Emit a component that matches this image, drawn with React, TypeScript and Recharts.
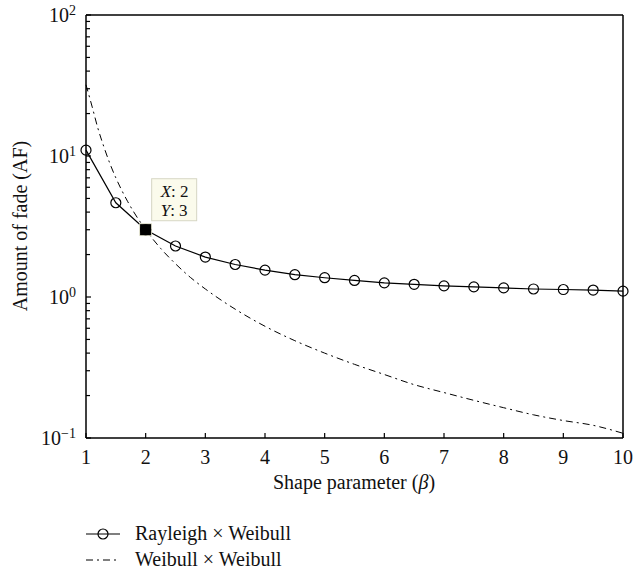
import React from 'react';
import { LineChart, Line, XAxis, YAxis, ReferenceDot, Legend } from 'recharts';

const FONT = '"Liberation Serif", "DejaVu Serif", serif';

// Shape parameter (beta) samples for the marker series
const betaCoarse = [1, 1.5, 2, 2.5, 3, 3.5, 4, 4.5, 5, 5.5, 6, 6.5, 7, 7.5, 8, 8.5, 9, 9.5, 10];
// Rayleigh x Weibull amount of fade
const rayleighWeibull = [11.0, 4.66, 3.0, 2.30, 1.92, 1.70, 1.55, 1.44, 1.37, 1.31, 1.26, 1.23, 1.20, 1.18, 1.16, 1.14, 1.13, 1.12, 1.10];

// Finer beta samples for the dash-dot curve
const betaFine = [1, 1.1, 1.2, 1.3, 1.4, 1.5, 1.6, 1.7, 1.8, 1.9, 2, 2.25, 2.5, 2.75, 3, 3.5, 4, 4.5, 5, 5.5, 6, 6.5, 7, 7.5, 8, 8.5, 9, 9.5, 10];
// Weibull x Weibull amount of fade
const weibullWeibull = [32, 22.6, 15.7, 11.6, 8.85, 7.0, 5.7, 4.74, 4.01, 3.45, 3.0, 2.215, 1.72, 1.377, 1.14, 0.82, 0.62, 0.49, 0.40, 0.333, 0.282, 0.239, 0.210, 0.185, 0.164, 0.146, 0.133, 0.123, 0.108];

const xTicks = [1, 2, 3, 4, 5, 6, 7, 8, 9, 10];
const xTickLabels = ['1', '2', '3', '4', '5', '6', '7', '8', '9', '10'];
const yMajorTicks = [0.1, 1, 10, 100];
const yTickExponents = ['\u22121', '0', '1', '2'];
const yMinorTicks = [0.2, 0.3, 0.4, 0.5, 0.6, 0.7, 0.8, 0.9, 2, 3, 4, 5, 6, 7, 8, 9, 20, 30, 40, 50, 60, 70, 80, 90];
const yTicks = [...yMajorTicks, ...yMinorTicks].sort((a, b) => a - b);

const seriesNames = ['Rayleigh \u00d7 Weibull', 'Weibull \u00d7 Weibull'];
const dataTip = { x: 2, y: 3 };

const majorIndex = (v: number) => yMajorTicks.findIndex((m) => Math.abs(m - v) < 1e-9);

const BottomTick = (p: any) => {
  const { x, y, payload } = p;
  const i = xTicks.indexOf(payload.value);
  return (
    <g>
      <line x1={x} y1={y} x2={x} y2={y - 5} stroke="#000" strokeWidth={1.2} />
      <text x={x} y={y + 26} textAnchor="middle" fontFamily={FONT} fontSize={20} fill="#111">
        {xTickLabels[i]}
      </text>
    </g>
  );
};

const TopTick = (p: any) => {
  const { x, y } = p;
  return <line x1={x} y1={y} x2={x} y2={y + 5} stroke="#000" strokeWidth={1.2} />;
};

const LeftTick = (p: any) => {
  const { x, y, payload } = p;
  const mi = majorIndex(payload.value);
  const major = mi >= 0;
  return (
    <g>
      <line x1={x} y1={y} x2={x + (major ? 5 : 4)} y2={y} stroke="#000" strokeWidth={1.2} />
      {major && (
        <text x={x - 10} y={y + 7} textAnchor="end" fontFamily={FONT} fontSize={20} fill="#111">
          10
          <tspan dy={-7} fontSize={14}>{yTickExponents[mi]}</tspan>
        </text>
      )}
    </g>
  );
};

const RightTick = (p: any) => {
  const { x, y, payload } = p;
  const major = majorIndex(payload.value) >= 0;
  return <line x1={x} y1={y} x2={x - (major ? 5 : 4)} y2={y} stroke="#000" strokeWidth={1.2} />;
};

const XLabel = () => (
  <text x={354} y={489} textAnchor="middle" fontFamily={FONT} fontSize={20} fill="#111">
    Shape parameter (<tspan fontStyle="italic">β</tspan>)
  </text>
);

const YLabel = () => (
  <text
    x={27}
    y={226}
    transform="rotate(-90, 27, 226)"
    textAnchor="middle"
    fontFamily={FONT}
    fontSize={20}
    fill="#111"
  >
    Amount of fade (AF)
  </text>
);

const DataTipShape = (p: any) => {
  const { cx, cy } = p;
  return (
    <g>
      <rect x={cx + 6} y={cy - 51} width={45} height={42} fill="#fbfbec" stroke="#d6d6c4" strokeWidth={1} />
      <text x={cx + 15} y={cy - 33} fontFamily={FONT} fontSize={17} fill="#111">
        <tspan fontStyle="italic">X</tspan>: {dataTip.x}
      </text>
      <text x={cx + 15} y={cy - 14} fontFamily={FONT} fontSize={17} fill="#111">
        <tspan fontStyle="italic">Y</tspan>: {dataTip.y}
      </text>
      <rect x={cx - 6} y={cy - 6} width={12} height={12} fill="#000" stroke="#f3f3dc" strokeWidth={0.8} />
    </g>
  );
};

const LegendContent = () => (
  <svg width={300} height={60} style={{ display: 'block' }}>
    <line x1={6} y1={16} x2={40} y2={16} stroke="#000" strokeWidth={1.2} />
    <circle cx={23} cy={16} r={5} fill="none" stroke="#000" strokeWidth={1.2} />
    <text x={55} y={22} fontFamily={FONT} fontSize={20} fill="#111">{seriesNames[0]}</text>
    <line x1={6} y1={42} x2={40} y2={42} stroke="#000" strokeWidth={1} strokeDasharray="7 4 2 4" />
    <text x={55} y={48} fontFamily={FONT} fontSize={20} fill="#111">{seriesNames[1]}</text>
  </svg>
);

export default function App() {
  const rwData = betaCoarse.map((b, i) => ({ beta: b, af: rayleighWeibull[i] }));
  const wwData = betaFine.map((b, i) => ({ beta: b, af: weibullWeibull[i] }));
  const axisLine = { stroke: '#000', strokeWidth: 1.5 };
  return (
    <div style={{ position: 'absolute', left: 0, top: 0, width: 633, height: 574, background: '#fff' }}>
      <LineChart width={633} height={574} margin={{ top: 14, right: 9, bottom: 135, left: 85 }}>
        <XAxis
          xAxisId="b"
          type="number"
          dataKey="beta"
          orientation="bottom"
          domain={[1, 10]}
          ticks={xTicks}
          interval={0}
          height={1}
          tickSize={0}
          tickMargin={0}
          tickLine={false}
          tick={(p: any) => <BottomTick {...p} />}
          axisLine={axisLine}
          label={<XLabel />}
        />
        <XAxis
          xAxisId="t"
          type="number"
          orientation="top"
          domain={[1, 10]}
          ticks={xTicks}
          interval={0}
          height={1}
          tickSize={0}
          tickMargin={0}
          tickLine={false}
          tick={(p: any) => <TopTick {...p} />}
          axisLine={axisLine}
        />
        <YAxis
          yAxisId="l"
          type="number"
          scale="log"
          orientation="left"
          domain={[0.1, 100]}
          ticks={yTicks}
          interval={0}
          width={1}
          tickSize={0}
          tickMargin={0}
          tickLine={false}
          tick={(p: any) => <LeftTick {...p} />}
          axisLine={axisLine}
          label={<YLabel />}
        />
        <YAxis
          yAxisId="r"
          type="number"
          scale="log"
          orientation="right"
          domain={[0.1, 100]}
          ticks={yTicks}
          interval={0}
          width={1}
          tickSize={0}
          tickMargin={0}
          tickLine={false}
          tick={(p: any) => <RightTick {...p} />}
          axisLine={axisLine}
        />
        <Line
          xAxisId="b"
          yAxisId="l"
          data={wwData}
          dataKey="af"
          type="monotone"
          stroke="#000"
          strokeWidth={1}
          strokeDasharray="7 4 2 4"
          dot={false}
          activeDot={false}
          isAnimationActive={false}
        />
        <Line
          xAxisId="b"
          yAxisId="l"
          data={rwData}
          dataKey="af"
          type="linear"
          stroke="#000"
          strokeWidth={1.2}
          dot={{ r: 5, stroke: '#000', strokeWidth: 1.2, fill: 'none' }}
          activeDot={false}
          isAnimationActive={false}
        />
        <ReferenceDot
          xAxisId="b"
          yAxisId="l"
          x={dataTip.x}
          y={dataTip.y}
          shape={(p: any) => <DataTipShape {...p} />}
        />
        <Legend
          layout="vertical"
          align="center"
          verticalAlign="middle"
          wrapperStyle={{ left: 80, top: 518, width: 300, height: 60 }}
          content={() => <LegendContent />}
        />
      </LineChart>
    </div>
  );
}
